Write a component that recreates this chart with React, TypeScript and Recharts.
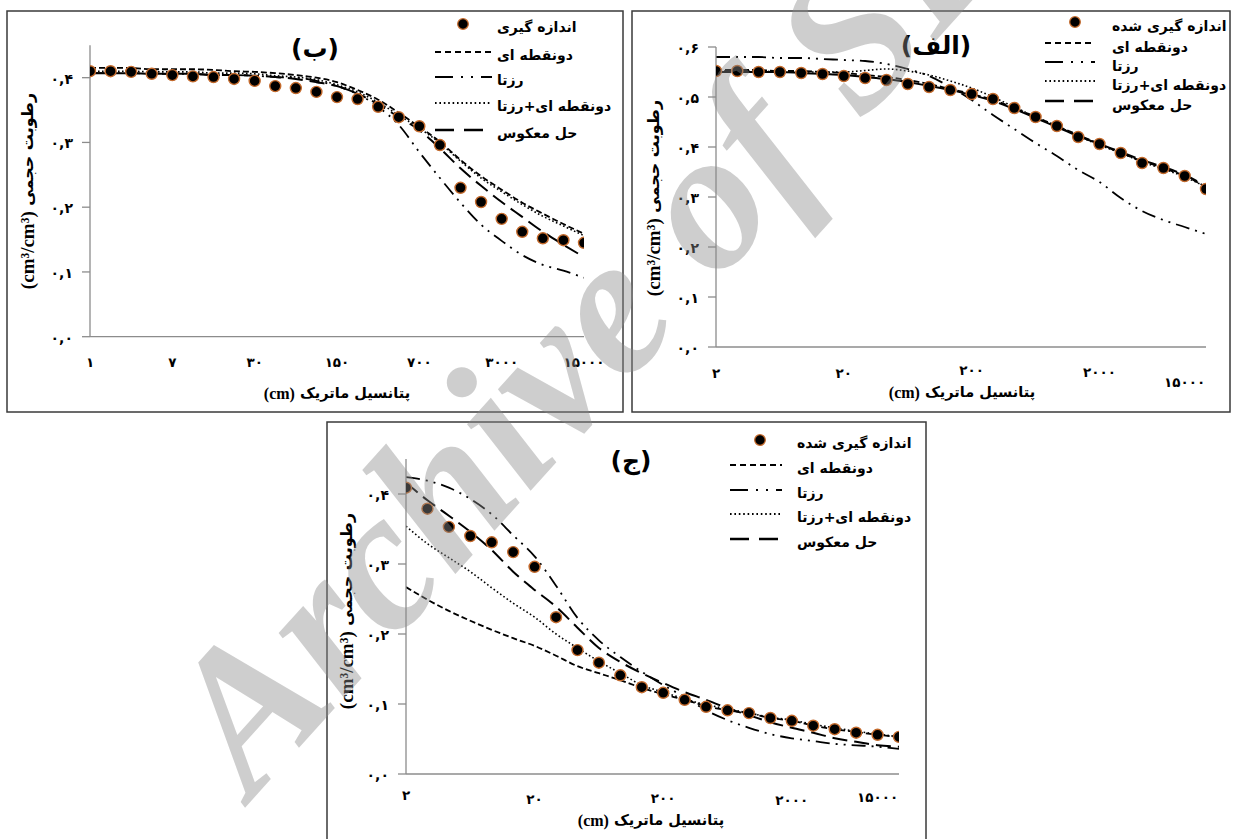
import React from 'react';
import { LineChart, Line, XAxis, YAxis, Legend } from 'recharts';

// ---------- Panel (ب) ----------
const xTicksB = [0, 4, 8, 12, 16, 20, 24];
const xLabelsB = ['۱', '۷', '۳۰', '۱۵۰', '۷۰۰', '۳۰۰۰', '۱۵۰۰۰'];
const yTicksB = [0, 0.1, 0.2, 0.3, 0.4];
const yLabelsB = ['۰,۰', '۰,۱', '۰,۲', '۰,۳', '۰,۴'];
const measuredB = [0.410, 0.410, 0.409, 0.406, 0.404, 0.402, 0.401, 0.398, 0.395, 0.387, 0.384, 0.378, 0.370, 0.367, 0.355, 0.339, 0.325, 0.296, 0.230, 0.208, 0.182, 0.162, 0.152, 0.149, 0.145];
const shortDashB = [0.415, 0.415, 0.415, 0.413, 0.413, 0.413, 0.412, 0.410, 0.409, 0.407, 0.404, 0.400, 0.393, 0.381, 0.366, 0.346, 0.324, 0.301, 0.273, 0.248, 0.227, 0.207, 0.190, 0.174, 0.159];
const rosettaB = [0.407, 0.407, 0.407, 0.406, 0.406, 0.406, 0.404, 0.404, 0.403, 0.401, 0.400, 0.395, 0.387, 0.375, 0.355, 0.327, 0.285, 0.245, 0.207, 0.173, 0.148, 0.126, 0.111, 0.102, 0.091];
const dottedB = [0.410, 0.410, 0.410, 0.409, 0.409, 0.409, 0.407, 0.407, 0.406, 0.403, 0.401, 0.397, 0.389, 0.378, 0.362, 0.342, 0.322, 0.299, 0.271, 0.245, 0.224, 0.204, 0.186, 0.171, 0.156];
const inverseB = [0.407, 0.407, 0.407, 0.406, 0.406, 0.406, 0.404, 0.404, 0.403, 0.401, 0.398, 0.393, 0.387, 0.375, 0.359, 0.339, 0.319, 0.291, 0.260, 0.233, 0.208, 0.185, 0.162, 0.142, 0.123];

// ---------- Panel (الف) ----------
const xTicksA = [0, 6, 12, 18, 22];
const xLabelsA = ['۲', '۲۰', '۲۰۰', '۲۰۰۰', '۱۵۰۰۰'];
const yTicksA = [0, 0.1, 0.2, 0.3, 0.4, 0.5, 0.6];
const yLabelsA = ['۰,۰', '۰,۱', '۰,۲', '۰,۳', '۰,۴', '۰,۵', '۰,۶'];
const measuredA = [0.552, 0.552, 0.550, 0.550, 0.548, 0.546, 0.542, 0.538, 0.534, 0.526, 0.520, 0.514, 0.506, 0.496, 0.478, 0.460, 0.442, 0.420, 0.406, 0.388, 0.368, 0.358, 0.342, 0.316];
const shortDashA = [0.554, 0.554, 0.554, 0.552, 0.552, 0.550, 0.548, 0.544, 0.540, 0.534, 0.526, 0.516, 0.506, 0.494, 0.478, 0.460, 0.442, 0.424, 0.406, 0.388, 0.372, 0.358, 0.342, 0.320];
const rosettaA = [0.580, 0.580, 0.580, 0.578, 0.578, 0.576, 0.574, 0.572, 0.566, 0.556, 0.542, 0.520, 0.494, 0.464, 0.436, 0.408, 0.382, 0.354, 0.330, 0.298, 0.272, 0.254, 0.240, 0.226];
const dottedA = [0.552, 0.552, 0.552, 0.550, 0.550, 0.550, 0.550, 0.553, 0.556, 0.552, 0.544, 0.532, 0.518, 0.500, 0.480, 0.460, 0.442, 0.422, 0.404, 0.388, 0.370, 0.356, 0.340, 0.320];
const inverseA = [0.550, 0.550, 0.550, 0.550, 0.548, 0.546, 0.544, 0.540, 0.536, 0.530, 0.522, 0.514, 0.504, 0.492, 0.476, 0.458, 0.440, 0.422, 0.406, 0.390, 0.374, 0.360, 0.344, 0.322];

// ---------- Panel (ج) ----------
const xTicksJ = [0, 6, 12, 18, 22];
const xLabelsJ = ['۲', '۲۰', '۲۰۰', '۲۰۰۰', '۱۵۰۰۰'];
const yTicksJ = [0, 0.1, 0.2, 0.3, 0.4];
const yLabelsJ = ['۰,۰', '۰,۱', '۰,۲', '۰,۳', '۰,۴'];
const measuredJ = [0.409, 0.379, 0.353, 0.340, 0.331, 0.317, 0.296, 0.224, 0.177, 0.159, 0.141, 0.124, 0.116, 0.106, 0.096, 0.091, 0.087, 0.080, 0.076, 0.069, 0.064, 0.059, 0.056, 0.053];
const shortDashJ = [0.267, 0.249, 0.233, 0.219, 0.206, 0.194, 0.183, 0.169, 0.154, 0.144, 0.134, 0.123, 0.114, 0.106, 0.097, 0.091, 0.087, 0.080, 0.076, 0.069, 0.064, 0.060, 0.056, 0.053];
const rosettaJ = [0.424, 0.419, 0.409, 0.393, 0.371, 0.341, 0.311, 0.269, 0.223, 0.191, 0.167, 0.146, 0.127, 0.110, 0.091, 0.077, 0.066, 0.057, 0.051, 0.047, 0.043, 0.041, 0.039, 0.036];
const dottedJ = [0.354, 0.329, 0.309, 0.289, 0.266, 0.244, 0.224, 0.200, 0.180, 0.161, 0.144, 0.127, 0.117, 0.107, 0.099, 0.093, 0.087, 0.081, 0.077, 0.071, 0.066, 0.061, 0.057, 0.053];
const inverseJ = [0.416, 0.391, 0.369, 0.346, 0.320, 0.289, 0.263, 0.239, 0.209, 0.180, 0.160, 0.144, 0.130, 0.117, 0.106, 0.094, 0.084, 0.074, 0.066, 0.059, 0.051, 0.046, 0.041, 0.039];

// ---------- Texts ----------
const measuredNameB = 'اندازه گیری';
const measuredNameAJ = 'اندازه گیری شده';
const seriesNames = ['دونقطه ای', 'رزتا', 'دونقطه ای+رزتا', 'حل معکوس'];
const yTitleUnit = '(cm³/cm³)';
const yTitleText = 'رطوبت حجمی';
const xTitleUnit = '(cm)';
const xTitleText = 'پتانسیل ماتریک';
const watermark = 'Archive of SID';

const FA = "'DejaVu Sans', sans-serif";
const SERIF = "'Liberation Serif', 'Times New Roman', serif";
const AXIS = '#8c8c8c';
const DOT_EDGE = '#c46a2c';

const lineStyles = [
  { key: 'shortDash', dash: '6 3', w: 1.8, legendDash: '6 4' },
  { key: 'rosetta', dash: '14 6 2 6 2 6', w: 1.8, legendDash: '18 8 2 8 2 8' },
  { key: 'dotted', dash: '1.6 2.4', w: 1.6, legendDash: '1.6 2.8' },
  { key: 'inverse', dash: '15 7', w: 2, legendDash: '19 10' },
];

const panels = [
  {
    id: 'b', title: '(ب)', measuredName: measuredNameB,
    left: 7, top: 11, width: 616, height: 401,
    plotLeft: 83, plotRight: 39, plotTop: 34.3, plotBottom: 75.3, yMax: 0.45,
    xTicks: xTicksB, xLabels: xLabelsB, yTicks: yTicksB, yLabels: yLabelsB,
    measured: measuredB, shortDash: shortDashB, rosetta: rosettaB, dotted: dottedB, inverse: inverseB,
    xDy: [25, 25, 25, 25, 25, 25, 25],
    titlePos: [308, 37], yTitlePos: [20, 180], xTitlePos: [330, 382],
    legend: { mx: 456, lx1: 428, lx2: 485, tx: 490, rows: [13, 41, 66, 92, 119], tdy: 3 },
  },
  {
    id: 'a', title: '(الف)', measuredName: measuredNameAJ,
    left: 632, top: 11, width: 598, height: 401,
    plotLeft: 84, plotRight: 24, plotTop: 36, plotBottom: 65, yMax: 0.6,
    xTicks: xTicksA, xLabels: xLabelsA, yTicks: yTicksA, yLabels: yLabelsA,
    measured: measuredA, shortDash: shortDashA, rosetta: rosettaA, dotted: dottedA, inverse: inverseA,
    xDy: [26, 26, 23, 25, 35],
    titlePos: [304, 34], yTitlePos: [21, 187], xTitlePos: [330, 381],
    legend: { mx: 443, lx1: 413, lx2: 463, tx: 480, rows: [11, 32, 51, 70, 90], tdy: 4 },
  },
  {
    id: 'j', title: '(ج)', measuredName: measuredNameAJ,
    left: 327, top: 422, width: 599, height: 420,
    plotLeft: 79, plotRight: 27, plotTop: 37, plotBottom: 68, yMax: 0.45,
    xTicks: xTicksJ, xLabels: xLabelsJ, yTicks: yTicksJ, yLabels: yLabelsJ,
    measured: measuredJ, shortDash: shortDashJ, rosetta: rosettaJ, dotted: dottedJ, inverse: inverseJ,
    xDy: [21, 25, 24, 26, 23],
    titlePos: [304, 38], yTitlePos: [19, 189], xTitlePos: [324, 398],
    legend: { mx: 433, lx1: 403, lx2: 455, tx: 470, rows: [18, 43, 68, 92, 117], tdy: 3 },
  },
];

function Panel({ cfg }: { cfg: any }) {
  const rows = cfg.measured.map((m: number, i: number) => ({
    i,
    measured: m,
    shortDash: cfg.shortDash[i],
    rosetta: cfg.rosetta[i],
    dotted: cfg.dotted[i],
    inverse: cfg.inverse[i],
  }));

  const renderXTick = (p: any) => {
    const k = cfg.xTicks.indexOf(p.payload.value);
    return (
      <text x={p.x} y={p.y + (cfg.xDy[k] ?? 25)} textAnchor="middle" dominantBaseline="central"
        fontFamily={FA} fontWeight="bold" fontSize={13.5} fill="#000">
        {cfg.xLabels[k]}
      </text>
    );
  };

  const renderYTick = (p: any) => {
    const k = cfg.yTicks.indexOf(p.payload.value);
    return (
      <text x={p.x} y={p.y + 1} textAnchor="end" dominantBaseline="central"
        fontFamily={FA} fontWeight="bold" fontSize={14} fill="#000">
        {cfg.yLabels[k]}
      </text>
    );
  };

  const L = cfg.legend;
  const renderLegend = () => (
    <svg width={cfg.width} height={cfg.height} style={{ position: 'absolute', left: 0, top: 0, overflow: 'visible' }}>
      <circle cx={L.mx} cy={L.rows[0]} r={5.3} fill="#000" stroke={DOT_EDGE} strokeWidth={1.3} />
      <text x={L.tx} y={L.rows[0] + L.tdy} dominantBaseline="central" fontFamily={FA} fontWeight="bold" fontSize={14} fill="#000">
        {cfg.measuredName}
      </text>
      {lineStyles.map((s, j) => (
        <g key={s.key}>
          <line x1={L.lx1} x2={L.lx2} y1={L.rows[j + 1]} y2={L.rows[j + 1]} stroke="#000" strokeWidth={s.w + 0.4} strokeDasharray={s.legendDash} />
          <text x={L.tx} y={L.rows[j + 1] + L.tdy} dominantBaseline="central" fontFamily={FA} fontWeight="bold" fontSize={14} fill="#000">
            {seriesNames[j]}
          </text>
        </g>
      ))}
    </svg>
  );

  return (
    <div style={{ position: 'absolute', left: cfg.left, top: cfg.top, width: cfg.width, height: cfg.height }}>
      <LineChart width={cfg.width} height={cfg.height} data={rows}
        margin={{ top: cfg.plotTop, right: cfg.plotRight, bottom: 0, left: 0 }}>
        <XAxis type="number" dataKey="i" domain={[0, rows.length - 1]} ticks={cfg.xTicks} interval={0}
          height={cfg.plotBottom} axisLine={{ stroke: AXIS, strokeWidth: 1.3 }} tickLine={false}
          tickSize={0} tickMargin={0} tick={renderXTick} allowDataOverflow />
        <YAxis type="number" domain={[0, cfg.yMax]} ticks={cfg.yTicks} interval={0} width={cfg.plotLeft}
          axisLine={{ stroke: AXIS, strokeWidth: 1.3 }} tickLine={{ stroke: AXIS, strokeWidth: 1.3 }}
          tickSize={8} tickMargin={9} tick={renderYTick} allowDataOverflow />
        <Line dataKey="measured" name={cfg.measuredName} stroke="none" isAnimationActive={false} legendType="circle"
          dot={{ r: 5.5, fill: '#000', stroke: DOT_EDGE, strokeWidth: 1.4 }} activeDot={false} />
        {lineStyles.map((s, j) => (
          <Line key={s.key} dataKey={s.key} name={seriesNames[j]} type="monotone" stroke="#000"
            strokeWidth={s.w} strokeDasharray={s.dash} dot={false} activeDot={false} isAnimationActive={false} />
        ))}
        <Legend layout="vertical" align="center" verticalAlign="middle"
          wrapperStyle={{ left: 0, top: 0, width: cfg.width, height: cfg.height, pointerEvents: 'none' }}
          content={renderLegend} />
      </LineChart>
      <svg width={cfg.width} height={cfg.height} style={{ position: 'absolute', left: 0, top: 0, pointerEvents: 'none' }}>
        <text x={cfg.titlePos[0]} y={cfg.titlePos[1]} textAnchor="middle" dominantBaseline="central"
          fontFamily={FA} fontWeight="bold" fontSize={25} fill="#000">{cfg.title}</text>
        <text transform={`translate(${cfg.yTitlePos[0]},${cfg.yTitlePos[1]}) rotate(-90)`} textAnchor="middle" dominantBaseline="central" fill="#000">
          <tspan fontFamily={SERIF} fontWeight="bold" fontSize={19}>{yTitleUnit}</tspan>
          <tspan fontFamily={FA} fontWeight="bold" fontSize={16}>{' ' + yTitleText}</tspan>
        </text>
        <text x={cfg.xTitlePos[0]} y={cfg.xTitlePos[1]} textAnchor="middle" dominantBaseline="central" fill="#000">
          <tspan fontFamily={SERIF} fontWeight="bold" fontSize={16}>{xTitleUnit}</tspan>
          <tspan fontFamily={FA} fontWeight="bold" fontSize={14.5}>{' ' + xTitleText}</tspan>
        </text>
      </svg>
    </div>
  );
}

export default function App() {
  return (
    <div style={{ position: 'absolute', left: 0, top: 0, width: 1236, height: 839, background: '#fff', overflow: 'hidden' }}>
      <svg width={1236} height={839} style={{ position: 'absolute', left: 0, top: 0 }}>
        {panels.map((p) => (
          <rect key={p.id} x={p.left} y={p.top} width={p.width} height={p.id === 'j' ? 440 : p.height}
            fill="none" stroke="#3a3a3a" strokeWidth={1.5} />
        ))}
      </svg>
      {panels.map((p) => <Panel key={p.id} cfg={p} />)}
      <svg width={1236} height={839} style={{ position: 'absolute', left: 0, top: 0, pointerEvents: 'none' }}>
        <text transform="translate(252,800) rotate(-48)" fontFamily={SERIF} fontStyle="italic" fontWeight="bold"
          fontSize={200} fill="#8a8a8a" fillOpacity={0.42}>{watermark}</text>
      </svg>
    </div>
  );
}
